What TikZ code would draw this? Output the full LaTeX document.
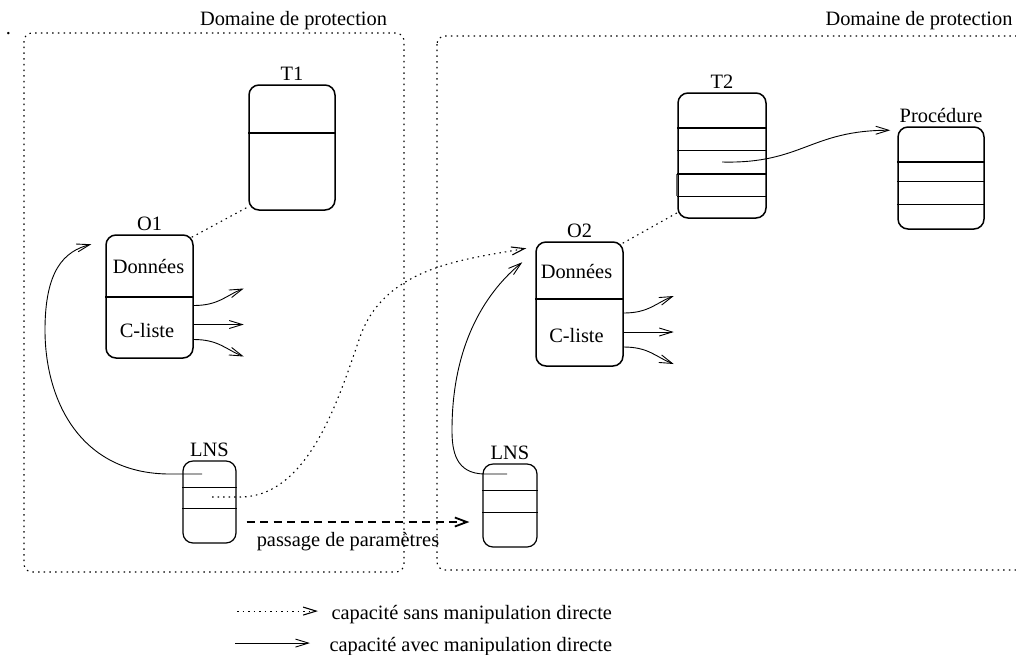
\documentclass[tikz,border=0pt]{standalone}
\usepackage{fontspec}
\setmainfont{Liberation Serif}
\usetikzlibrary{arrows.meta,positioning}

\begin{document}
\begin{tikzpicture}[x=1pt,y=-1pt,font=\fontsize{20.4pt}{24pt}\selectfont,
	casier/.style={draw,rounded corners=10pt,line width=1.5pt,inner sep=0pt,label distance=4.7pt},
	trait/.style={line width=1.5pt},
	filet/.style={line width=0.9pt},
	lien/.style={line width=0.9pt},
	pointille/.style={line width=1.1pt,dash pattern=on 1.5pt off 4pt},
	fleche/.style={-{Straight Barb[length=13pt,width=8pt]}},
	passe/.style={line width=1.8pt,dash pattern=on 8pt off 5.5pt,-{Straight Barb[length=12pt,width=9pt]}},
	domaine/.style={line width=1.1pt,dash pattern=on 1.5pt off 4.2pt,rounded corners=8pt}]
	\useasboundingbox (0,0) rectangle (1016,654);

	% domaines de protection
	\draw[domaine] (24,33) rectangle (404,572);
	\draw[domaine] (437,36) rectangle (1040,570);
	\node[anchor=base] (dom1) at (293.5,25) {Domaine de protection};
	\node[anchor=base] (dom2) at (919,25) {Domaine de protection};
	\node[anchor=base] (pt) at (8.5,34) {.};

	% objets
	\node[casier,minimum width=86pt,minimum height=125pt,label=above:T1] (T1) at (292,147.5) {};
	\node[casier,minimum width=87pt,minimum height=123pt,label=above:O1] (O1) at (149.5,296.5) {};
	\node[casier,line width=1.2pt,minimum width=53pt,minimum height=82pt,label=above:LNS] (LNS1) at (209.5,502) {};
	\node[casier,minimum width=87pt,minimum height=124pt,label=above:O2] (O2) at (579.5,304) {};
	\node[casier,minimum width=88pt,minimum height=125pt,label=above:T2] (T2) at (722,155.5) {};
	\node[casier,minimum width=86pt,minimum height=102pt,label=above:Procédure] (Proc) at (941,178) {};
	\node[casier,line width=1.2pt,minimum width=54pt,minimum height=83pt,label=above:LNS] (LNS2) at (510,505.5) {};

	\node[anchor=base] (O1d) at (148.5,273) {Données};
	\node[anchor=base] (O1c) at (147,337) {C-liste};
	\node[anchor=base] (O2d) at (576.5,278) {Données};
	\node[anchor=base] (O2c) at (576.5,342) {C-liste};

	% cases
	\foreach \b/\y in {T1/133,O1/297,O2/299,T2/128,T2/174,Proc/162}
		\draw[trait] (\b.west |- 0,\y) -- (\b.east |- 0,\y);
	\foreach \b/\y in {LNS1/487,LNS1/508,LNS2/490,LNS2/512,T2/150,T2/196,Proc/181,Proc/204}
		\draw[filet] (\b.west |- 0,\y) -- (\b.east |- 0,\y);
	\draw[trait,black!60] (T2.west |- 0,174) ++(-1,0) -- ++(0,22);

	% capacites
	\draw[pointille] ([shift={(-2,3)}]O1.north east) -- ([yshift=4pt]T1.south west);
	\draw[pointille] ([shift={(-1,2)}]O2.north east) -- ([yshift=6pt]T2.south west);
	\foreach \o in {O1,O2} {
		\draw[lien,fleche] ([yshift=-9pt]\o.east) .. controls +(25,0) and +(-18,7) .. ++(50,-17);
		\draw[lien,fleche] ([yshift=-28pt]\o.east) -- ++(50,0);
		\draw[lien,fleche] ([yshift=-43pt]\o.east) .. controls +(25,0) and +(-18,-7) .. ++(50,17);
	}
	\draw[lien,fleche] ([yshift=-6.5pt]T2.center) .. controls +(80,2) and +(-80,0) .. ([shift={(-7,4)}]Proc.north west);

	\draw[lien,fleche] ([shift={(-7.5,-28)}]LNS1.center) -- ++(-32,0)
		.. controls +(-90,0) and +(0,70) .. (45,330)
		.. controls +(0,-60) and +(-27,7) .. ([shift={(-14,10)}]O1.north west);
	\draw[lien,fleche] ([shift={(-3,-31.5)}]LNS2.center) -- ++(-22,0)
		.. controls +(-30,0) and +(0,20) .. (452,430)
		.. controls +(0,-90) and +(-33,27) .. ([shift={(-13,21)}]O2.north west);
	\draw[pointille,fleche] ([shift={(2.5,-5)}]LNS1.center) -- ++(28,0)
		.. controls +(70,0) and +(-20,57) .. (360,337)
		.. controls +(25,-71) and +(-60,11) .. ([shift={(-9,7)}]O2.north west);

	\draw[passe] ([shift={(10,20)}]LNS1.east) -- node[pos=.455,below=6pt] (param) {passage de paramètres} ([shift={(-13,16.5)}]LNS2.west);

	% legende
	\node[anchor=base west] (legA) at (328,619) {capacité sans manipulation directe};
	\node[anchor=base west] (legB) at (326,651) {capacité avec manipulation directe};
	\draw[pointille,fleche] ([shift={(-91,-3)}]legA.west) -- ([shift={(-10,-3)}]legA.west);
	\draw[lien,fleche] ([shift={(-91,-3)}]legB.west) -- ([shift={(-16,-3)}]legB.west);
\end{tikzpicture}
\end{document}
